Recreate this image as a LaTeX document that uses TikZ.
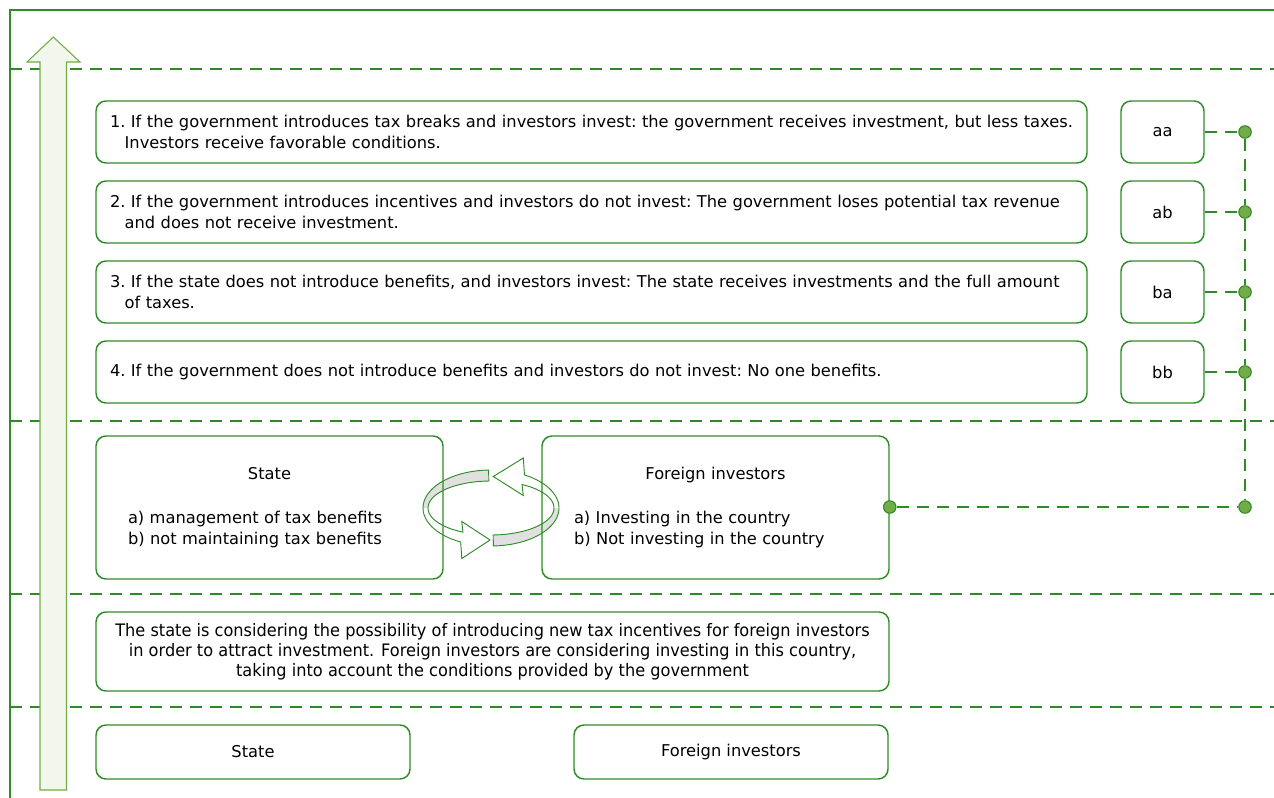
\documentclass[tikz,border=0pt]{standalone}
\usepackage{fontspec}
\setmainfont{DejaVu Sans}
\newfontfamily\condfont[FakeStretch=0.94]{DejaVu Sans}
\usepackage{xcolor}
\definecolor{lineg}{RGB}{46,139,37}
\definecolor{dotg}{RGB}{112,173,71}
\definecolor{arrg}{RGB}{112,173,71}
\definecolor{arrfill}{RGB}{242,246,236}
\definecolor{backg}{RGB}{224,224,224}
\newdimen\pxu \pxu=0.75pt

\begin{document}
\begin{tikzpicture}[x=0.75pt,y=0.75pt,yscale=-1,xscale=1,
  rbox/.style={draw=lineg, line width=1.1pt, rounded corners=10\pxu, inner sep=0pt, font=\fontsize{12.2}{16}\selectfont\frenchspacing},
  casebox/.style={rbox, text width=963\pxu, inner xsep=14\pxu, align=left, minimum height=62\pxu},
  keybox/.style={rbox, align=center, minimum width=83\pxu, minimum height=62\pxu},
  playerbox/.style={rbox, text width=283\pxu, inner xsep=32\pxu, align=left, minimum height=143\pxu},
  namebox/.style={rbox, align=center, minimum width=314\pxu, minimum height=54\pxu},
  dot/.style={circle, draw=lineg, fill=dotg, line width=0.8pt, minimum size=12.5\pxu, inner sep=0pt},
  conn/.style={draw=lineg, line width=1.1pt, dash pattern=on 9pt off 6pt},
  sep/.style={draw=lineg, line width=1.1pt, dash pattern=on 9pt off 6pt},
  cyc/.style={draw=lineg, line width=0.7pt}]
\useasboundingbox (0,0) rectangle (1274,798);

%Frame
\draw [lineg, line width=1.1pt] (10,798) -- (10,10) -- (1274,10) ;
%Dashed separators
\foreach \yy in {69,421,594,707} {
  \draw [sep] (10,\yy) -- (1274,\yy) ;
}
%Shape: Up Arrow
\draw [draw=arrg, fill=arrfill, line width=0.8pt] (40,790) -- (40,62) -- (27,62) -- (53.3,37) -- (80,62) -- (66.5,62) -- (66.5,790) -- cycle ;

%Shape: Circular Arrows (right half)
\fill [backg] plot[domain=-88:0, samples=30] ({491+68*cos(\x)},{508-38*sin(\x)}) -- plot[domain=0:-88, samples=30] ({491+63*cos(\x)},{508-27*sin(\x)}) -- cycle ;
\draw [cyc] plot[domain=-88:60.5, samples=50] ({491+68*cos(\x)},{508-38*sin(\x)}) -- (523.3,458) -- (493.3,476.5) -- (523.3,495.5) -- plot[domain=60.5:-88, samples=50] ({491+63*cos(\x)},{508-27*sin(\x)}) -- cycle ;
%Shape: Circular Arrows (left half)
\fill [backg] plot[domain=92:180, samples=30] ({491+68*cos(\x)},{508-38*sin(\x)}) -- plot[domain=180:92, samples=30] ({491+63*cos(\x)},{508-27*sin(\x)}) -- cycle ;
\draw [cyc] plot[domain=92:243.5, samples=50] ({491+68*cos(\x)},{508-38*sin(\x)}) -- (461.8,558.5) -- (490,540) -- (461.8,521.5) -- plot[domain=243.5:92, samples=50] ({491+63*cos(\x)},{508-27*sin(\x)}) -- cycle ;

% Outcome boxes
\node [casebox] (caseaa) at (591.5,132) {1. If the government introduces tax breaks and investors invest: the government receives investment, but less taxes.\\\hspace*{11pt}Investors receive favorable conditions.};
\node [casebox] (caseab) at (591.5,212) {2. If the government introduces incentives and investors do not invest: The government loses potential tax revenue\\\hspace*{11pt}and does not receive investment.};
\node [casebox] (caseba) at (591.5,292) {3. If the state does not introduce benefits, and investors invest: The state receives investments and the full amount\\\hspace*{11pt}of taxes.};
\node [casebox] (casebb) at (591.5,372) {4. If the government does not introduce benefits and investors do not invest: No one benefits.};
% Strategy keys
\node [keybox] (aa) at (1162.5,132) {aa};
\node [keybox] (ab) at (1162.5,212) {ab};
\node [keybox] (ba) at (1162.5,292) {ba};
\node [keybox] (bb) at (1162.5,372) {bb};

% Players with strategies
\node [playerbox] (st) at (269.5,507.5) {\makebox[283\pxu]{State}\\[17pt]a) management of tax benefits\\b) not maintaining tax benefits};
\node [playerbox] (fi) at (715.5,507.5) {\makebox[283\pxu]{Foreign investors}\\[17pt]a) Investing in the country\\b) Not investing in the country};

% Situation
\node [rbox, align=center, minimum width=793\pxu, minimum height=79\pxu, font=\condfont\fontsize{12.9}{15}\selectfont] (sit) at (492.5,651.5) {The state is considering the possibility of introducing new tax incentives for foreign investors\\in order to attract investment. Foreign investors are considering investing in this country,\\taking into account the conditions provided by the government};

% Players
\node [namebox] (stn) at (253,752) {State};
\node [namebox] (fin) at (731,752) {Foreign investors};

% Connector dots
\node [dot] (d1) at (1245,132) {};
\node [dot] (d2) at (1245,212) {};
\node [dot] (d3) at (1245,292) {};
\node [dot] (d4) at (1245,372) {};
\node [dot] (d6) at (1245,507) {};

\draw [conn] (aa) -- (d1) ;
\draw [conn] (ab) -- (d2) ;
\draw [conn] (ba) -- (d3) ;
\draw [conn] (bb) -- (d4) ;
\draw [conn] (d1) -- (d2) ;
\draw [conn] (d2) -- (d3) ;
\draw [conn] (d3) -- (d4) ;
\draw [conn] (d4) -- (d6) ;
\node [dot] (d5) at (fi.east |- d6) {};
\draw [conn] (d5) -- (d6) ;

\end{tikzpicture}
\end{document}
